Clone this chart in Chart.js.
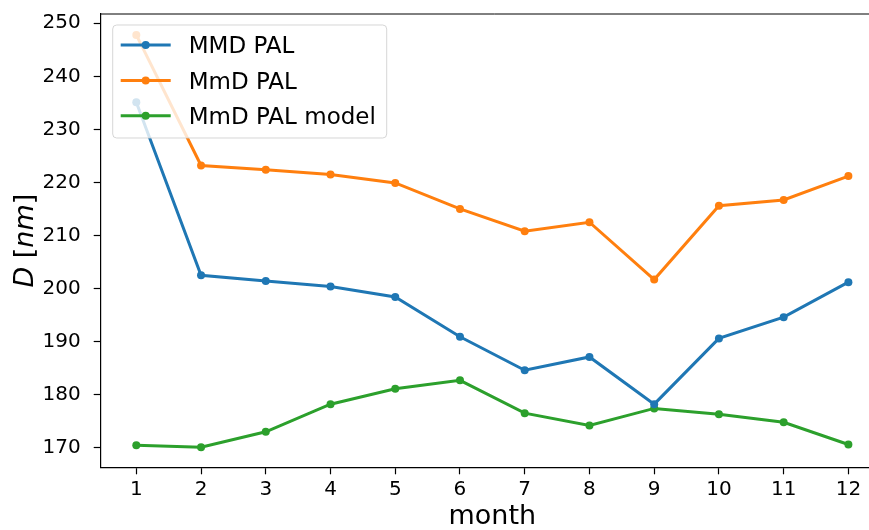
<!DOCTYPE html>
<html lang="en">
<head>
<meta charset="UTF-8">
<title>D per month</title>
<script src="https://cdn.jsdelivr.net/npm/chart.js@4.4.0/dist/chart.umd.min.js"></script>
<style>
    html, body { margin: 0; padding: 0; overflow: hidden; background: #fff; }
    #wrap { position: relative; width: 888px; height: 530px; }
</style>
</head>
<body>
<div id="wrap"><canvas id="chart"></canvas></div>
<script>
// values
const months = [1, 2, 3, 4, 5, 6, 7, 8, 9, 10, 11, 12];
const yTicks = [170, 180, 190, 200, 210, 220, 230, 240, 250];
const seriesNames = ['MMD PAL', 'MmD PAL', 'MmD PAL model'];
const seriesColors = ['#1f77b4', '#ff7f0e', '#2ca02c'];
const mmdPal = [235.1, 202.5, 201.4, 200.4, 198.4, 190.9, 184.6, 187.1, 178.2, 190.6, 194.6, 201.2];
const mmdPalMinor = [247.8, 223.2, 222.4, 221.5, 219.9, 215.0, 210.8, 212.5, 201.7, 215.6, 216.7, 221.2];
const mmdPalModel = [170.45, 170.1, 173.0, 178.2, 181.1, 182.7, 176.5, 174.2, 177.4, 176.3, 174.8, 170.6];

const FONT = "'DejaVu Sans', sans-serif";

function makeSet(name, values, color) {
    return {
        label: name,
        data: months.map((m, i) => ({ x: m, y: values[i] })),
        borderColor: color,
        backgroundColor: color,
        borderWidth: 3,
        pointRadius: 4,
        pointHoverRadius: 4,
        pointBorderWidth: 0,
        pointBackgroundColor: color,
        tension: 0,
        fill: false
    };
}

// top spine, y axis title with mixed italic, legend inside the plot
const extras = {
    id: 'extras',
    afterDatasetsDraw(chart) {
        const ctx = chart.ctx;
        const area = chart.chartArea;
        ctx.save();

        // top spine
        ctx.strokeStyle = '#000';
        ctx.lineWidth = 1;
        ctx.beginPath();
        ctx.moveTo(area.left, area.top);
        ctx.lineTo(chart.width, area.top);
        ctx.stroke();

        // legend box
        const bx = area.left + 12, by = area.top + 11, bw = 274, bh = 113;
        ctx.beginPath();
        ctx.roundRect(bx, by, bw, bh, 4);
        ctx.fillStyle = 'rgba(255,255,255,0.8)';
        ctx.fill();
        ctx.strokeStyle = 'rgba(204,204,204,0.8)';
        ctx.lineWidth = 1;
        ctx.stroke();

        ctx.font = '23px ' + FONT;
        ctx.textBaseline = 'alphabetic';
        ctx.textAlign = 'left';
        chart.data.datasets.forEach((ds, i) => {
            const y = by + 20 + i * 35.4;
            ctx.strokeStyle = ds.borderColor;
            ctx.lineWidth = 3;
            ctx.beginPath();
            ctx.moveTo(bx + 8, y);
            ctx.lineTo(bx + 58, y);
            ctx.stroke();
            ctx.fillStyle = ds.borderColor;
            ctx.beginPath();
            ctx.arc(bx + 33, y, 4, 0, Math.PI * 2);
            ctx.fill();
            ctx.fillStyle = '#000';
            ctx.fillText(ds.label, bx + 76, y + 8.4);
        });

        // y axis title: D [nm], D and nm italic
        const parts = [['D', true], [' [', false], ['nm', true], [']', false]];
        let total = 0;
        parts.forEach(p => {
            ctx.font = (p[1] ? 'italic ' : '') + '27px ' + FONT;
            total += ctx.measureText(p[0]).width;
        });
        ctx.translate(32.5, (area.top + area.bottom) / 2);
        ctx.rotate(-Math.PI / 2);
        let x = -total / 2;
        ctx.fillStyle = '#000';
        parts.forEach(p => {
            ctx.font = (p[1] ? 'italic ' : '') + '27px ' + FONT;
            ctx.fillText(p[0], x, 0);
            x += ctx.measureText(p[0]).width;
        });
        ctx.restore();
    }
};

new Chart(document.getElementById('chart'), {
    type: 'line',
    data: {
        datasets: [
            makeSet(seriesNames[0], mmdPal, seriesColors[0]),
            makeSet(seriesNames[1], mmdPalMinor, seriesColors[1]),
            makeSet(seriesNames[2], mmdPalModel, seriesColors[2])
        ]
    },
    options: {
        responsive: true,
        maintainAspectRatio: false,
        animation: false,
        layout: { padding: { top: 14, right: 1, left: 0, bottom: 0 } },
        plugins: {
            legend: { display: false },
            tooltip: { enabled: false }
        },
        scales: {
            x: {
                type: 'linear',
                min: 0.45,
                max: 12.55,
                afterBuildTicks: s => { s.ticks = months.map(v => ({ value: v })); },
                afterFit: s => {
                    s.height = 62.7;
                    s.paddingLeft = 0;
                    s.paddingRight = 0;
                },
                ticks: {
                    color: '#000',
                    font: { size: 20, family: FONT },
                    padding: 3,
                    maxRotation: 0,
                    autoSkip: false
                },
                grid: { drawOnChartArea: false, drawTicks: true, tickLength: 7, tickColor: '#000', tickWidth: 1.2 },
                border: { color: '#000', width: 1.2 },
                title: {
                    display: true,
                    text: 'month',
                    color: '#000',
                    font: { size: 27, family: FONT, lineHeight: 1.0 },
                    padding: 0
                }
            },
            y: {
                min: 166.3,
                max: 251.75,
                afterBuildTicks: s => { s.ticks = yTicks.map(v => ({ value: v })); },
                afterFit: s => {
                    s.width = 100.7;
                    s.paddingTop = 0;
                    s.paddingBottom = 0;
                },
                ticks: {
                    color: '#000',
                    font: { size: 20, family: FONT },
                    padding: 13
                },
                grid: { drawOnChartArea: false, drawTicks: true, tickLength: 7, tickColor: '#000', tickWidth: 1.2 },
                border: { color: '#000', width: 1.2 }
            }
        }
    },
    plugins: [extras]
});
</script>
</body>
</html>
